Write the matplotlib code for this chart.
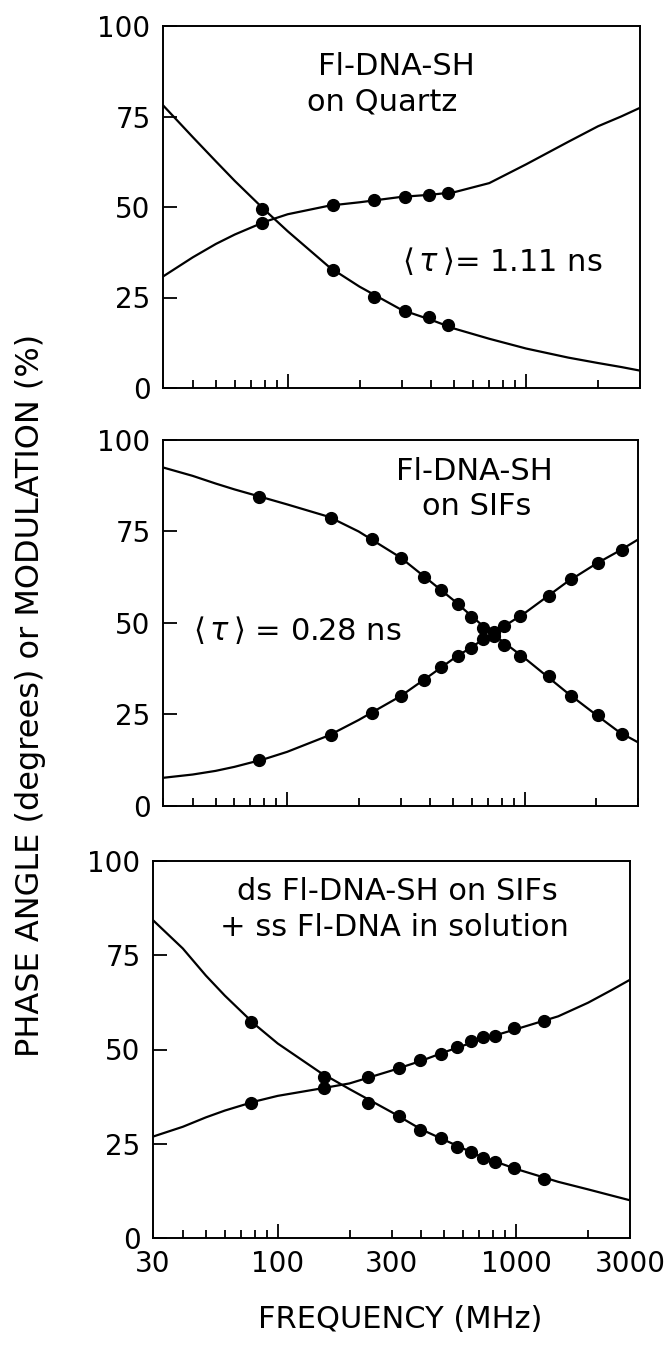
import matplotlib
matplotlib.use('Agg')
import matplotlib.pyplot as plt

plt.rcParams['font.family'] = ['DejaVu Sans']
plt.rcParams['mathtext.fontset'] = 'dejavusans'

# ---- data ----
# frequencies (MHz) where the fitted curves were sampled
fit_freq = [30, 40, 50, 60, 80, 100, 150, 200, 300, 400, 500, 700, 1000, 1500, 2000, 2500, 3000]

# panel 1: Fl-DNA-SH on quartz
q_freq = [78, 155, 230, 310, 390, 470]
q_phase = [45.6, 50.6, 51.8, 52.8, 53.3, 53.9]
q_mod = [49.5, 32.6, 25.1, 21.3, 19.6, 17.3]
q_fit_phase = [30.8, 36.1, 39.8, 42.4, 45.9, 48.0, 50.4, 51.3, 52.8, 53.4, 54.1, 56.6, 61.8, 68.0, 72.3, 75.0, 77.4]
q_fit_mod = [78.1, 69.3, 62.6, 57.2, 49.2, 43.3, 33.3, 28.0, 21.6, 18.8, 16.4, 13.6, 10.9, 8.4, 6.9, 5.8, 4.8]

# panel 2: Fl-DNA-SH on SIFs
s_freq = [76, 153, 227, 302, 376, 446, 522, 594, 668, 745, 822, 955, 1260, 1560, 2030, 2570]
s_phase = [12.6, 19.5, 25.4, 30.0, 34.4, 37.9, 41.0, 43.1, 45.6, 47.5, 49.1, 51.8, 57.3, 61.9, 66.3, 70.0]
s_mod = [84.4, 78.8, 72.9, 67.8, 62.7, 58.9, 55.1, 51.6, 48.6, 46.4, 44.1, 41.0, 35.4, 30.0, 24.8, 19.7]
s_fit_phase = [7.7, 8.6, 9.6, 10.7, 12.8, 14.8, 19.3, 23.5, 30.0, 35.7, 40.2, 46.3, 52.7, 61.1, 66.2, 69.7, 72.8]
s_fit_mod = [92.5, 90.2, 88.1, 86.5, 84.2, 82.4, 79.0, 75.0, 67.9, 61.4, 56.3, 48.0, 40.4, 31.1, 24.9, 20.2, 17.4]

# panel 3: ds Fl-DNA-SH on SIFs + ss Fl-DNA in solution
m_freq = [77, 157, 240, 322, 395, 485, 565, 645, 725, 815, 975, 1310]
m_phase = [35.9, 39.7, 42.7, 45.1, 47.3, 48.9, 50.7, 52.2, 53.4, 53.6, 55.7, 57.5]
m_mod = [57.3, 42.8, 35.8, 32.4, 28.6, 26.4, 24.1, 22.9, 21.2, 20.1, 18.5, 15.6]
m_fit_phase = [26.9, 29.5, 32.0, 33.8, 36.2, 37.7, 39.6, 41.0, 44.4, 47.0, 49.3, 52.5, 55.4, 58.8, 62.4, 65.7, 68.5]
m_fit_mod = [84.3, 76.8, 69.6, 64.3, 56.7, 51.6, 44.0, 39.5, 33.4, 28.8, 26.0, 21.8, 18.3, 14.9, 12.9, 11.3, 10.0]

y_ticks = [0, 25, 50, 75, 100]

panels = [
    (q_freq, q_phase, q_mod, q_fit_phase, q_fit_mod),
    (s_freq, s_phase, s_mod, s_fit_phase, s_fit_mod),
    (m_freq, m_phase, m_mod, m_fit_phase, m_fit_mod),
]

# axes boxes measured on the scan in pixels: left, top, right, bottom
W, H = 671.0, 1345.0
boxes = [(163, 26, 640, 388), (163, 440, 638, 806), (153, 861, 630, 1238)]

fig = plt.figure(figsize=(6.71, 13.45), dpi=100)

minor_f = [30, 40, 50, 60, 70, 80, 90, 200, 300, 400, 500, 600, 700, 800, 900, 2000, 3000]

axes = []
for i, (freq, ph, md, fph, fmd) in enumerate(panels):
    l, t, r, b = boxes[i]
    ax = fig.add_axes([l / W, 1 - b / H, (r - l) / W, (b - t) / H])
    ax.plot(fit_freq, fph, color='black', lw=1.6)
    ax.plot(fit_freq, fmd, color='black', lw=1.6)
    ax.plot(freq, ph, 'o', color='black', ms=8.5)
    ax.plot(freq, md, 'o', color='black', ms=8.5)
    ax.set_xscale('log')
    ax.set_xlim(30, 3000)
    ax.set_ylim(0, 100)

    ax.set_yticks(y_ticks)
    ax.set_yticklabels([str(v) for v in y_ticks])
    ax.tick_params(axis='y', which='major', direction='in', length=10, width=1.3,
                   pad=9, labelsize=20, right=False)

    # long ticks at the decades, short ones in between; labels only on the bottom panel
    if i == 2:
        ax.set_xticks([100, 1000], labels=['100', '1000'])
        mlabels = [str(f) if f in (30, 300, 3000) else '' for f in minor_f]
        ax.set_xticks(minor_f, labels=mlabels, minor=True)
    else:
        ax.set_xticks([100, 1000], labels=['', ''])
        ax.set_xticks(minor_f, labels=['' for f in minor_f], minor=True)
    ax.tick_params(axis='x', which='major', direction='in', length=10, width=1.3,
                   pad=9, labelsize=20, top=False)
    ax.tick_params(axis='x', which='minor', direction='in', length=6, width=1.3,
                   pad=9, labelsize=20, top=False)
    for s in ax.spines.values():
        s.set_linewidth(1.4)
    axes.append(ax)

tfs = 22
axes[0].text(285, 88.7, 'Fl-DNA-SH', fontsize=tfs, ha='center', va='center')
axes[0].text(250, 79.0, 'on Quartz', fontsize=tfs, ha='center', va='center')
axes[0].text(796, 35.0, r'$\langle\,\tau\,\rangle$= 1.11 ns', fontsize=tfs, ha='center', va='center')

axes[1].text(615, 91.3, 'Fl-DNA-SH', fontsize=tfs, ha='center', va='center')
axes[1].text(628, 81.9, 'on SIFs', fontsize=tfs, ha='center', va='center')
axes[1].text(110, 48.2, r'$\langle\,\tau\,\rangle$ = 0.28 ns', fontsize=tfs, ha='center', va='center')

axes[2].text(316, 91.8, 'ds Fl-DNA-SH on SIFs', fontsize=tfs, ha='center', va='center')
axes[2].text(310, 82.4, '+ ss Fl-DNA in solution', fontsize=tfs, ha='center', va='center')

fig.text(0.045, 0.483, 'PHASE ANGLE (degrees) or MODULATION (%)', rotation=90,
         fontsize=23, ha='center', va='center')
fig.text(0.597, 0.0186, 'FREQUENCY (MHz)', fontsize=22, ha='center', va='center')

fig.savefig('out.png', dpi=100)
